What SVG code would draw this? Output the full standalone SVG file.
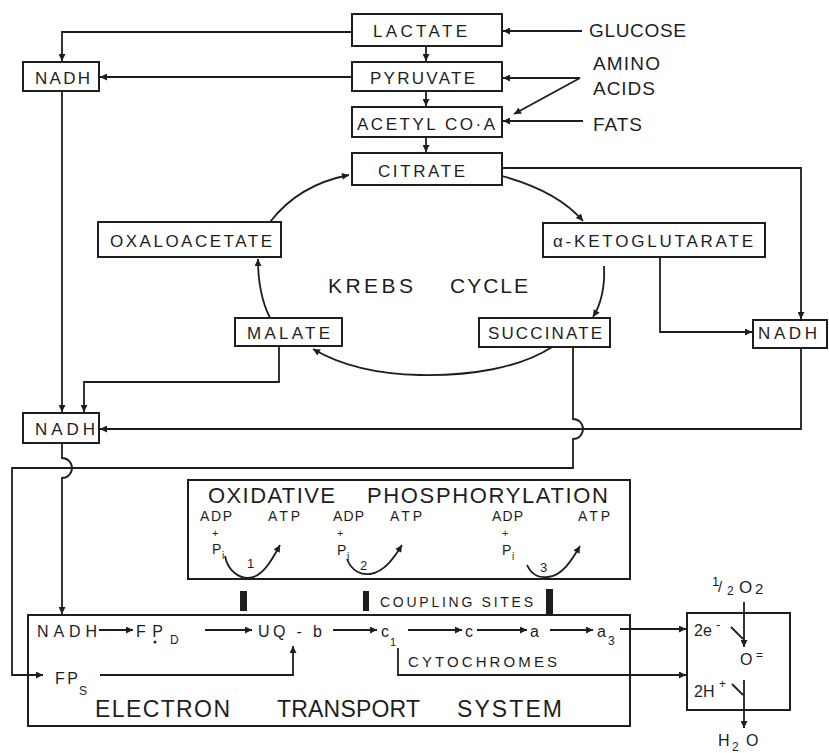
<svg xmlns="http://www.w3.org/2000/svg" width="829" height="753" viewBox="0 0 829 753">
<style>
.bx{fill:none;stroke:#1e1e1e;stroke-width:2}
.ln{fill:none;stroke:#1e1e1e;stroke-width:1.8}
.t{font-family:"Liberation Sans",Arial,sans-serif;fill:#1e1e1e}
.l17{font-size:17px}
.l16{font-size:16px}
.l14{font-size:14px}
.l19{font-size:19px}
.l22{font-size:22px}
</style>
<defs>
<marker id="ah" viewBox="0 0 10 10" refX="10" refY="5" markerWidth="9" markerHeight="7" markerUnits="userSpaceOnUse" orient="auto"><path d="M0,0 L10,5 L0,10 z" fill="#1e1e1e"/></marker>
</defs>
<rect x="0" y="0" width="829" height="753" fill="#ffffff"/>

<g id="connectors" class="ln">
<path d="M582,31 H503" marker-end="url(#ah)"/>
<path d="M580,78 H503" marker-end="url(#ah)"/>
<path d="M580,78 L514,114" marker-end="url(#ah)"/>
<path d="M583,121 H503" marker-end="url(#ah)"/>
<path d="M426,46 V61" marker-end="url(#ah)"/>
<path d="M426,91 V106" marker-end="url(#ah)"/>
<path d="M426,137 V152" marker-end="url(#ah)"/>
<path d="M351,32 H62 V61" marker-end="url(#ah)"/>
<path d="M351,77 H100" marker-end="url(#ah)"/>
<path d="M62,91 V412" marker-end="url(#ah)"/>
<path d="M279,346 V382 H84 V412" marker-end="url(#ah)"/>
<path d="M502,168 H801 V319" marker-end="url(#ah)"/>
<path d="M660,257 V332 H752" marker-end="url(#ah)"/>
<path d="M801,348 V429 H100" marker-end="url(#ah)"/>
<path d="M573,347 V419 A10,10 0 0 1 573,439 V468 H12 V675 H43" marker-end="url(#ah)"/>
<path d="M62,443 V458 A10,10 0 0 1 62,478 V614" marker-end="url(#ah)"/>
<!-- Krebs cycle arcs -->
<path d="M270,222 C290,196 318,181 349,175" marker-end="url(#ah)"/>
<path d="M502,176 C535,185 565,200 583,221" marker-end="url(#ah)"/>
<path d="M604,266 C605,285 601,304 593,317" marker-end="url(#ah)"/>
<path d="M552,347 C520,368 470,376 420,375 C370,374 335,362 313,349" marker-end="url(#ah)"/>
<path d="M270,318 C262,302 258,283 258,259" marker-end="url(#ah)"/>
<!-- oxidative phosphorylation arcs -->
<path d="M225,556 C228,572 240,578 248,578 C262,578 272,560 280,545" marker-end="url(#ah)"/>
<path d="M347,559 C352,572 362,575 370,574 C385,572 395,556 402,545" marker-end="url(#ah)"/>
<path d="M527,565 C532,576 540,578 548,577 C562,576 572,560 580,546" marker-end="url(#ah)"/>
<!-- electron transport chain -->
<path d="M99,630 H133" marker-end="url(#ah)"/>
<path d="M205,630 H252" marker-end="url(#ah)"/>
<path d="M333,630 H377" marker-end="url(#ah)"/>
<path d="M408,630 H462" marker-end="url(#ah)"/>
<path d="M477,630 H527" marker-end="url(#ah)"/>
<path d="M550,630 H593" marker-end="url(#ah)"/>
<path d="M620,629 H686" marker-end="url(#ah)"/>
<path d="M100,675 H293 V646" marker-end="url(#ah)"/>
<path d="M398,648 V675 H686" marker-end="url(#ah)"/>
<path d="M744,602 V647" marker-end="url(#ah)"/>
<path d="M744,680 V728" marker-end="url(#ah)"/>
<path d="M731,627 L743,639"/>
<path d="M732,684 L743,695"/>
</g>

<g id="lactate"><rect class="bx" x="352" y="14" width="150" height="32"/><text class="t l17" x="373" y="37" textLength="94">LACTATE</text></g>
<g id="pyruvate"><rect class="bx" x="352" y="62" width="150" height="29"/><text class="t l17" x="370" y="84" textLength="105">PYRUVATE</text></g>
<g id="acetylcoa"><rect class="bx" x="352" y="107" width="150" height="30"/><text class="t l17" x="357" y="130" textLength="138">ACETYL CO·A</text></g>
<g id="citrate"><rect class="bx" x="352" y="153" width="150" height="32"/><text class="t l17" x="378" y="177" textLength="87">CITRATE</text></g>
<g id="nadh1"><rect class="bx" x="23" y="62" width="76" height="29"/><text class="t l17" x="35" y="84" textLength="55">NADH</text></g>
<g id="glucose"><text class="t l19" x="589" y="37" textLength="97">GLUCOSE</text></g>
<g id="aminoacids"><text class="t l19" x="593" y="70" textLength="67">AMINO</text><text class="t l19" x="593" y="95" textLength="62">ACIDS</text></g>
<g id="fats"><text class="t l19" x="593" y="131" textLength="49">FATS</text></g>
<g id="oxaloacetate"><rect class="bx" x="98" y="222" width="183" height="35"/><text class="t l17" x="110" y="247" textLength="162">OXALOACETATE</text></g>
<g id="akg"><rect class="bx" x="543" y="223" width="222" height="34"/><text class="t l17" x="553" y="247" textLength="200">α-KETOGLUTARATE</text></g>
<g id="krebs"><text class="t" font-size="21" x="328" y="293" textLength="85">KREBS</text><text class="t" font-size="21" x="450" y="293" textLength="78">CYCLE</text></g>
<g id="malate"><rect class="bx" x="235" y="318" width="107" height="28"/><text class="t l17" x="247" y="339" textLength="83">MALATE</text></g>
<g id="succinate"><rect class="bx" x="479" y="318" width="131" height="29"/><text class="t l17" x="488" y="339" textLength="114">SUCCINATE</text></g>
<g id="nadh3"><rect class="bx" x="753" y="320" width="74" height="28"/><text class="t l17" x="758" y="339" textLength="59">NADH</text></g>
<g id="nadh2"><rect class="bx" x="23" y="413" width="76" height="30"/><text class="t l17" x="35" y="435" textLength="60">NADH</text></g>

<g id="oxphos">
<rect class="bx" x="188" y="480" width="442" height="99"/>
<text class="t l22" x="208" y="503" textLength="127">OXIDATIVE</text>
<text class="t l22" x="367" y="503" textLength="241">PHOSPHORYLATION</text>
<text class="t l14" x="200" y="521" textLength="32">ADP</text>
<text class="t l14" x="268" y="521" textLength="32">ATP</text>
<text class="t l14" x="333" y="521" textLength="31">ADP</text>
<text class="t l14" x="390" y="521" textLength="32">ATP</text>
<text class="t l14" x="492" y="521" textLength="31">ADP</text>
<text class="t l14" x="578" y="521" textLength="32">ATP</text>
<text class="t" font-size="11" x="212" y="537">+</text>
<text class="t" font-size="11" x="337" y="537">+</text>
<text class="t" font-size="11" x="502" y="537">+</text>
<text class="t" font-size="14" x="212" y="554">P</text><text class="t" font-size="10" x="222" y="559">i</text>
<text class="t" font-size="14" x="337" y="555">P</text><text class="t" font-size="10" x="347" y="560">i</text>
<text class="t" font-size="14" x="502" y="555">P</text><text class="t" font-size="10" x="512" y="560">i</text>
<text class="t" font-size="13" x="247" y="568">1</text>
<text class="t" font-size="13" x="360" y="570">2</text>
<text class="t" font-size="13" x="540" y="572">3</text>
</g>

<g id="coupling">
<rect x="240" y="591" width="7" height="20" fill="#1e1e1e"/>
<rect x="363" y="591" width="6" height="20" fill="#1e1e1e"/>
<rect x="546" y="589" width="7" height="25" fill="#1e1e1e"/>
<text class="t l14" x="380" y="607" textLength="153">COUPLING SITES</text>
</g>

<g id="ets">
<rect class="bx" x="28" y="615" width="602" height="111"/>
<text class="t l16" x="37" y="637" textLength="60">NADH</text>
<text class="t l16" x="136" y="637" textLength="27">FP</text><text class="t" font-size="12" x="170" y="644">D</text>
<circle cx="155" cy="642" r="1.5" fill="#1e1e1e"/>
<text class="t l16" x="258" y="637" textLength="64">UQ - b</text>
<text class="t l16" x="381" y="637">c</text><text class="t" font-size="11" x="390" y="646">1</text>
<text class="t l16" x="465" y="637">c</text>
<text class="t l16" x="530" y="637">a</text>
<text class="t l16" x="597" y="637">a</text><text class="t" font-size="12" x="608" y="645">3</text>
<text class="t l16" x="55" y="684" textLength="23">FP</text><text class="t" font-size="12" x="79" y="695">S</text>
<text class="t" font-size="15" x="408" y="667" textLength="149">CYTOCHROMES</text>
<text class="t" font-size="23" x="95" y="717" textLength="135">ELECTRON</text>
<text class="t" font-size="23" x="277" y="717" textLength="143">TRANSPORT</text>
<text class="t" font-size="23" x="457" y="717" textLength="105">SYSTEM</text>
</g>

<g id="oxygen">
<rect class="bx" x="687" y="613" width="103" height="97"/>
<text class="t" font-size="13" x="712" y="586">1</text>
<text class="t" font-size="15" x="718" y="592">/</text>
<text class="t" font-size="12" x="727" y="595">2</text>
<text class="t" font-size="17" x="739" y="593">O</text>
<text class="t" font-size="15" x="755" y="594">2</text>
<text class="t l16" x="694" y="636">2e</text><text class="t" font-size="13" x="716" y="629">-</text>
<text class="t l16" x="740" y="665">O</text><text class="t" font-size="12" x="756" y="659">=</text>
<text class="t l16" x="694" y="697">2H</text><text class="t" font-size="12" x="719" y="688">+</text>
<text class="t l16" x="718" y="746">H</text><text class="t" font-size="12" x="732" y="751">2</text><text class="t l16" x="746" y="746">O</text>
</g>
</svg>
